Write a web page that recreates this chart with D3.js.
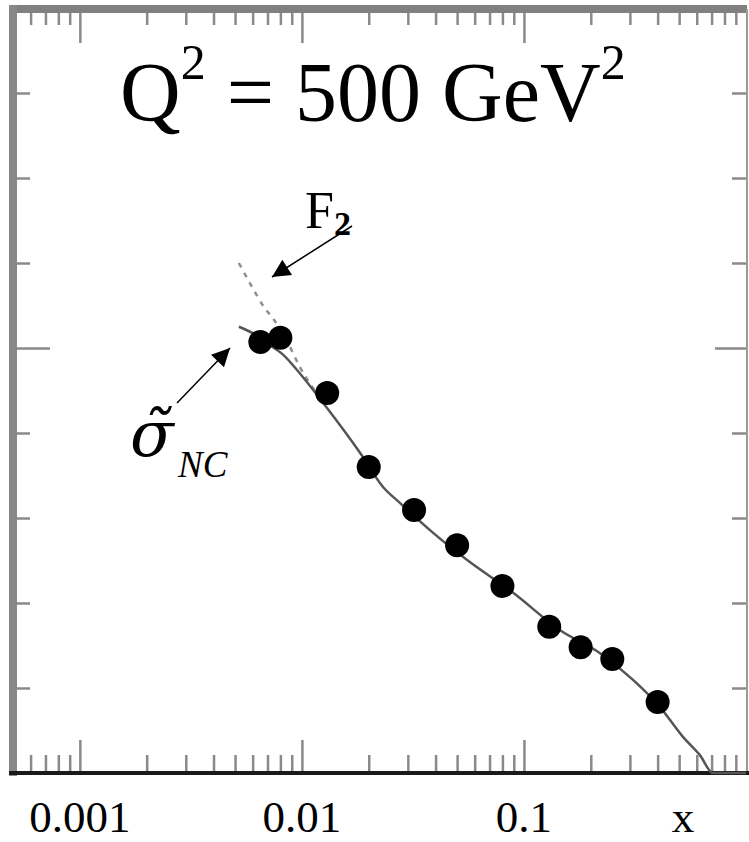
<!DOCTYPE html>
<html>
<head>
<meta charset="utf-8">
<script src="https://cdn.jsdelivr.net/npm/d3@7"></script>
<style>
  html, body { margin: 0; padding: 0; background: #fff; }
  svg { display: block; }
</style>
</head>
<body>
<svg id="chart" width="749" height="842"></svg>
<script>
// Measured points: reduced cross section at Q^2 = 500 GeV^2
const pointX = [0.0065, 0.008, 0.013, 0.020, 0.032, 0.050, 0.080, 0.130, 0.180, 0.250, 0.400];
const pointY = [1.014, 1.024, 0.894, 0.720, 0.619, 0.536, 0.440, 0.344, 0.296, 0.268, 0.167];

// Fit curve for the reduced cross section sigma~_NC
const sigmaX = [0.0052, 0.006, 0.007, 0.0082, 0.0098, 0.0125, 0.0183, 0.0232, 0.0277, 0.039, 0.0555, 0.0894, 0.1455, 0.22, 0.31, 0.41, 0.52, 0.62, 0.71, 1.0];
const sigmaY = [1.05, 1.035, 1.01, 0.985, 0.94, 0.87, 0.753, 0.673, 0.635, 0.565, 0.501, 0.424, 0.336, 0.282, 0.219, 0.155, 0.085, 0.042, 0.0, 0.0];

// Structure function F2 (departs from sigma~ at low x)
const f2X = [0.0052, 0.0059, 0.0068, 0.0074, 0.0085, 0.0098, 0.0125];
const f2Y = [1.20, 1.148, 1.094, 1.07, 1.02, 0.955, 0.872];

// Axis ticks
const xMajorTicks = [0.001, 0.01, 0.1];
const xTickLabels = ["0.001", "0.01", "0.1"];
const yMinorTicks = [0.2, 0.4, 0.6, 0.8, 1.2, 1.4, 1.6];
const yMajorTicks = [1.0];

const serif = "'Liberation Serif', 'Times New Roman', serif";
const svg = d3.select("#chart").attr("font-family", serif);
const frameL = 13, frameR = 747, frameT = 9, frameB = 773;

const x = d3.scaleLog().domain([0.0005, 1]).range([frameL, 746]);
const y = d3.scaleLinear().domain([0, 1.8]).range([frameB, 8]);

// minor log ticks: 2..9 x 10^n inside the domain
const xMinorTicks = [];
[-4, -3, -2, -1].forEach(e => {
  for (let k = 2; k <= 9; k++) {
    const v = +(k * Math.pow(10, e)).toPrecision(6);
    if (v > 0.0005 && v < 1 && !xMajorTicks.includes(v)) xMinorTicks.push(v);
  }
});

const tickColor = "#8a8a8a";
function styleAxis(g) {
  g.select(".domain").remove();
  g.selectAll(".tick line").attr("stroke", tickColor).attr("stroke-width", 2.5);
  g.selectAll(".tick text").remove();
}

// bottom ticks (pointing inward)
svg.append("g").attr("transform", `translate(0,${frameB})`)
  .call(d3.axisTop(x).tickValues(xMinorTicks).tickSize(18).tickFormat("")).call(styleAxis);
svg.append("g").attr("transform", `translate(0,${frameB})`)
  .call(d3.axisTop(x).tickValues(xMajorTicks).tickSize(33).tickFormat("")).call(styleAxis);
// top ticks
svg.append("g").attr("transform", `translate(0,${frameT})`)
  .call(d3.axisBottom(x).tickValues(xMinorTicks).tickSize(16).tickFormat("")).call(styleAxis);
svg.append("g").attr("transform", `translate(0,${frameT})`)
  .call(d3.axisBottom(x).tickValues(xMajorTicks).tickSize(34).tickFormat("")).call(styleAxis);
// left ticks
svg.append("g").attr("transform", `translate(${frameL},0)`)
  .call(d3.axisRight(y).tickValues(yMinorTicks).tickSize(17).tickFormat("")).call(styleAxis);
svg.append("g").attr("transform", `translate(${frameL},0)`)
  .call(d3.axisRight(y).tickValues(yMajorTicks).tickSize(37).tickFormat("")).call(styleAxis);
// right ticks
svg.append("g").attr("transform", `translate(${frameR},0)`)
  .call(d3.axisLeft(y).tickValues(yMinorTicks).tickSize(15).tickFormat("")).call(styleAxis);
svg.append("g").attr("transform", `translate(${frameR},0)`)
  .call(d3.axisLeft(y).tickValues(yMajorTicks).tickSize(32).tickFormat("")).call(styleAxis);

// frame
svg.append("line").attr("x1", frameL - 4).attr("x2", frameR).attr("y1", frameT).attr("y2", frameT)
  .attr("stroke", "#808080").attr("stroke-width", 8);
svg.append("line").attr("x1", frameL).attr("x2", frameL).attr("y1", frameT - 4).attr("y2", frameB + 3)
  .attr("stroke", "#888").attr("stroke-width", 8);
svg.append("line").attr("x1", frameR).attr("x2", frameR).attr("y1", frameT).attr("y2", frameB)
  .attr("stroke", "#9a9a9a").attr("stroke-width", 2);
svg.append("line").attr("x1", frameL - 4).attr("x2", frameR + 2).attr("y1", frameB).attr("y2", frameB)
  .attr("stroke", "#1a1a1a").attr("stroke-width", 4);

// curves
const line = d3.line().x(d => x(d[0])).y(d => y(d[1])).curve(d3.curveMonotoneX);
svg.append("path").datum(f2X.map((v, i) => [v, f2Y[i]]))
  .attr("d", line).attr("fill", "none").attr("stroke", "#8f8f8f")
  .attr("stroke-width", 2.5).attr("stroke-dasharray", "5,6");
svg.append("path").datum(sigmaX.map((v, i) => [v, sigmaY[i]]))
  .attr("d", line).attr("fill", "none").attr("stroke", "#555")
  .attr("stroke-width", 2.5);

// data points
svg.append("g").selectAll("circle").data(pointX.map((v, i) => [v, pointY[i]]))
  .join("circle")
  .attr("cx", d => x(d[0])).attr("cy", d => y(d[1])).attr("r", 12).attr("fill", "#000");

// arrows
svg.append("defs").append("marker")
  .attr("id", "head").attr("viewBox", "0 0 10 10").attr("refX", 10).attr("refY", 5)
  .attr("markerWidth", 22).attr("markerHeight", 18).attr("markerUnits", "userSpaceOnUse")
  .attr("orient", "auto")
  .append("path").attr("d", "M0,0 L10,5 L0,10 Z").attr("fill", "#000");
svg.append("line").attr("x1", 352).attr("y1", 226).attr("x2", 272).attr("y2", 277)
  .attr("stroke", "#000").attr("stroke-width", 1.5).attr("marker-end", "url(#head)");
svg.append("line").attr("x1", 177).attr("y1", 403).attr("x2", 230).attr("y2", 348)
  .attr("stroke", "#000").attr("stroke-width", 1.5).attr("marker-end", "url(#head)");

// title
const title = svg.append("text").attr("x", 120).attr("y", 121).attr("font-size", 84);
title.append("tspan").text("Q");
title.append("tspan").attr("font-size", 50).attr("dy", -42).text("2");
title.append("tspan").attr("dy", 42).text(" = 500 GeV");
title.append("tspan").attr("font-size", 50).attr("dy", -42).text("2");

// curve labels
const f2 = svg.append("text").attr("x", 305).attr("y", 228).attr("font-size", 52);
f2.append("tspan").text("F");
f2.append("tspan").attr("font-size", 34).attr("font-weight", "bold").attr("dy", 7).text("2");

// sigma with combining tilde: DejaVu Serif attaches the mark over the base glyph
const sig = svg.append("text").attr("x", 130).attr("y", 456).attr("font-size", 64);
sig.append("tspan").attr("font-family", "'DejaVu Serif', serif")
  .attr("font-style", "italic").text("σ\u0303");
sig.append("tspan").attr("font-size", 37).attr("font-style", "italic")
  .attr("x", 178).attr("y", 477).text("NC");

// x tick labels
svg.append("g").selectAll("text").data(xMajorTicks).join("text")
  .attr("x", d => x(d)).attr("y", 832).attr("font-size", 45).attr("text-anchor", "middle")
  .text((d, i) => xTickLabels[i]);
svg.append("text").attr("x", 683).attr("y", 832).attr("font-size", 45)
  .attr("text-anchor", "middle").text("x");
</script>
</body>
</html>
